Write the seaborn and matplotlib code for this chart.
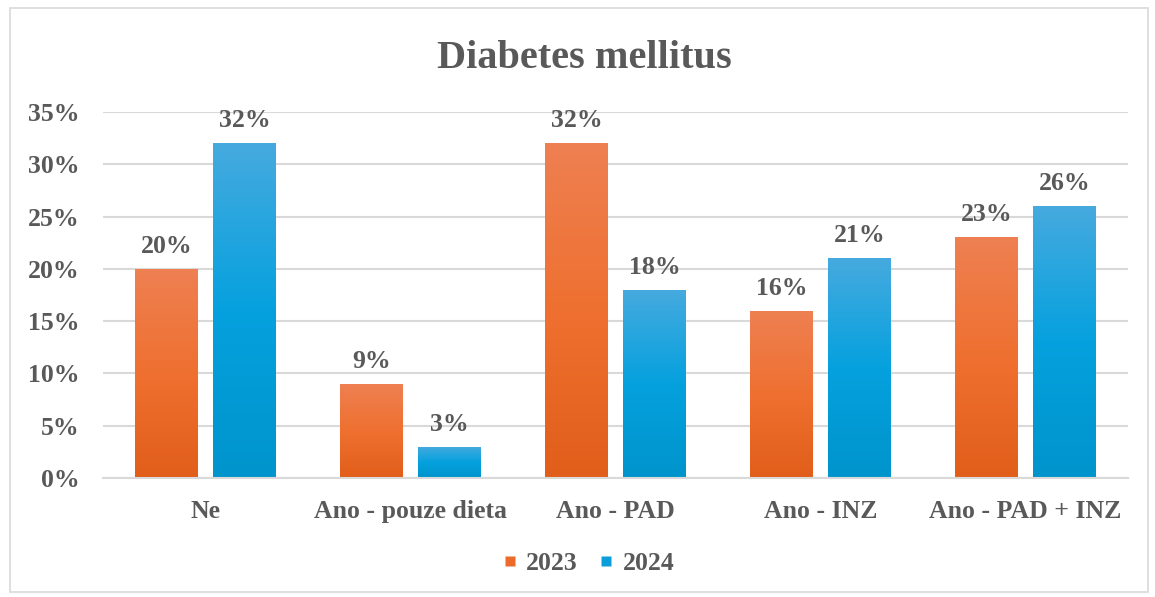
import numpy as np
import pandas as pd
import matplotlib
matplotlib.use("Agg")
import matplotlib.pyplot as plt
import seaborn as sns
from matplotlib.patches import Rectangle
from matplotlib.lines import Line2D
from matplotlib.colors import LinearSegmentedColormap

categories = ["Ne", "Ano - pouze dieta", "Ano - PAD", "Ano - INZ", "Ano - PAD + INZ"]
years = ["2023", "2024"]
values_2023 = [0.20, 0.09, 0.32, 0.16, 0.23]
values_2024 = [0.32, 0.03, 0.18, 0.21, 0.26]
yticks = [0.0, 0.05, 0.10, 0.15, 0.20, 0.25, 0.30, 0.35]
title = "Diabetes mellitus"

df = pd.DataFrame({
    "cat": categories * 2,
    "year": [years[0]] * len(categories) + [years[1]] * len(categories),
    "val": values_2023 + values_2024,
})

sns.set_theme(style="white")
plt.rcParams["font.family"] = ["Liberation Serif", "DejaVu Serif"]
plt.rcParams["font.weight"] = "bold"

txt = "#595959"
grid = "#D9D9D9"
fs = 18.5
base_cols = {"2023": "#EC6A2A", "2024": "#0A9FDA"}
grads = {
    "2023": ["#E15E1A", "#EF7030", "#EE8052"],
    "2024": ["#0094CC", "#05A1DE", "#46AADF"],
}

fig = plt.figure(figsize=(11.55, 5.97), dpi=100)
ax = fig.add_axes([103 / 1155, 1 - 478 / 597, (1128 - 103) / 1155, (478 - 112) / 597])

sns.barplot(data=df, x="cat", y="val", hue="year", palette=base_cols,
            width=0.76, gap=0.2, ax=ax, legend=False, order=categories,
            hue_order=years)

ax.set_ylim(0, 0.35)
ax.set_xlim(-0.5, len(categories) - 0.5)
ax.set_yticks(yticks)
ax.set_yticklabels([f"{int(round(t * 100))}%" for t in yticks])
ax.yaxis.grid(True, color=grid, linewidth=1.5)
ax.set_axisbelow(True)
for s in ["top", "right", "left"]:
    ax.spines[s].set_visible(False)
ax.spines["bottom"].set_color(grid)
ax.spines["bottom"].set_linewidth(1.5)
ax.tick_params(axis="both", length=0, labelsize=fs, labelcolor=txt)
ax.tick_params(axis="y", pad=17)
ax.tick_params(axis="x", pad=16)
for lab in ax.get_xticklabels() + ax.get_yticklabels():
    lab.set_fontweight("bold")
ax.set_xlabel("")
ax.set_ylabel("")

# gradient fill + value labels
for cont, yr in zip(ax.containers, years):
    cmap = LinearSegmentedColormap.from_list("g" + yr, grads[yr])
    for patch in cont:
        x0, y0 = patch.get_x(), patch.get_y()
        w, h = patch.get_width(), patch.get_height()
        grad = np.linspace(0, 1, 256).reshape(-1, 1)
        im = ax.imshow(grad, cmap=cmap, origin="lower", aspect="auto",
                       extent=[x0, x0 + w, y0, y0 + h], zorder=2)
        im.set_clip_path(patch)
        patch.set_facecolor("none")
        patch.set_edgecolor("none")
        ax.annotate(f"{int(round(h * 100))}%", (x0 + w / 2, h),
                    xytext=(0, 8), textcoords="offset points",
                    ha="center", va="bottom", fontsize=fs,
                    fontweight="bold", color=txt)
ax.set_xlim(-0.5, len(categories) - 0.5)
ax.set_ylim(0, 0.35)

# legend
handles = [Line2D([], [], linestyle="none", marker="s", markersize=7.5,
                  markerfacecolor=base_cols[y], markeredgecolor="none") for y in years]
leg = fig.legend(handles, years, loc="center", bbox_to_anchor=(589 / 1155, 1 - 563 / 597),
                 ncol=2, frameon=False, fontsize=fs, handlelength=0.45,
                 handletextpad=0.4, columnspacing=0.9)
for t in leg.get_texts():
    t.set_color(txt)
    t.set_fontweight("bold")

fig.text(584 / 1155, 1 - 58 / 597, title, ha="center", va="center",
         fontsize=29, fontweight="bold", color=txt)

# chart border
fig.patches.append(Rectangle((10 / 1155, 1 - 592 / 597), (1148 - 10) / 1155, (592 - 8) / 597,
                             transform=fig.transFigure, fill=False,
                             edgecolor=grid, linewidth=1.2))

fig.savefig("out.png", dpi=100)
